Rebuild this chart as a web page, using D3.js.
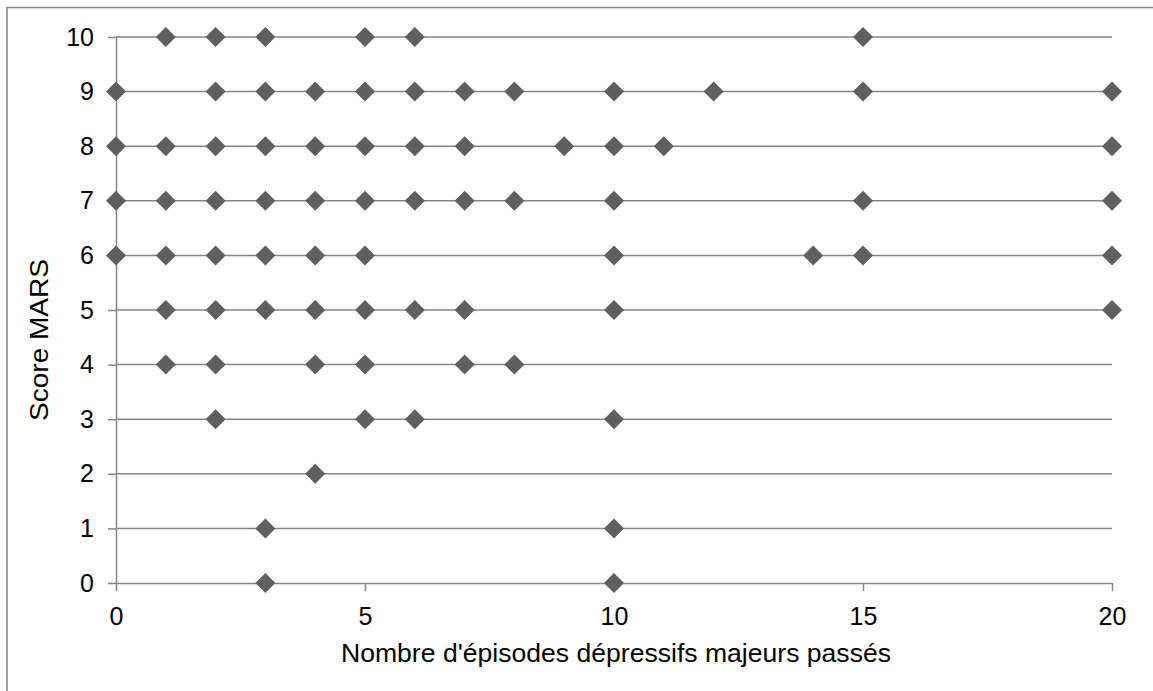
<!DOCTYPE html>
<html><head><meta charset="utf-8">
<script src="https://cdn.jsdelivr.net/npm/d3@7"></script>
<style>html,body{margin:0;padding:0;background:#fff;overflow:hidden}</style>
</head><body>
<svg id="c" width="1153" height="691"></svg>
<script>
// Score MARS rows: for each score, the list of past major depressive episode counts
const scores = [10, 9, 8, 7, 6, 5, 4, 3, 2, 1, 0];
const row10 = [1, 2, 3, 5, 6, 15];
const row9 = [0, 2, 3, 4, 5, 6, 7, 8, 10, 12, 15, 20];
const row8 = [0, 1, 2, 3, 4, 5, 6, 7, 9, 10, 11, 20];
const row7 = [0, 1, 2, 3, 4, 5, 6, 7, 8, 10, 15, 20];
const row6 = [0, 1, 2, 3, 4, 5, 10, 14, 15, 20];
const row5 = [1, 2, 3, 4, 5, 6, 7, 10, 20];
const row4 = [1, 2, 4, 5, 7, 8];
const row3 = [2, 5, 6, 10];
const row2 = [4];
const row1 = [3, 10];
const row0 = [3, 10];
const rows = [row10, row9, row8, row7, row6, row5, row4, row3, row2, row1, row0];
const xTicks = [0, 5, 10, 15, 20];
const yTicks = [0, 1, 2, 3, 4, 5, 6, 7, 8, 9, 10];
const xTitle = "Nombre d'épisodes dépressifs majeurs passés";
const yTitle = "Score MARS";

(function () {
const points = [];
rows.forEach((r, i) => r.forEach(v => points.push({x: v, y: scores[i]})));

const svg = d3.select("#c");
const font = "'Liberation Sans', Arial, sans-serif";
const L = 116, R = 1112, T = 37, B = 583;
const x = d3.scaleLinear().domain([0, 20]).range([L, R]);
const y = d3.scaleLinear().domain([0, 10]).range([B, T]);
const grey = "#868686";

// outer chart border (extends beyond the viewport on right/bottom)
svg.append("rect").attr("x", 7).attr("y", 7.5).attr("width", 1200).attr("height", 800)
  .attr("fill", "none").attr("stroke", grey).attr("stroke-width", 1.5);

// gridlines
svg.append("g").selectAll("line").data(yTicks.filter(d => d !== 0)).join("line")
  .attr("x1", L).attr("x2", R).attr("y1", d => y(d)).attr("y2", d => y(d))
  .attr("stroke", grey).attr("stroke-width", 1.5);

// y axis
const ya = svg.append("g").attr("transform", `translate(${L},0)`)
  .call(d3.axisLeft(y).tickValues(yTicks).tickSize(8).tickPadding(14).tickSizeOuter(0));
// x axis
const xa = svg.append("g").attr("transform", `translate(0,${B})`)
  .call(d3.axisBottom(x).tickValues(xTicks).tickSize(8).tickPadding(16).tickSizeOuter(0));
[ya, xa].forEach(g => {
  g.select(".domain").attr("stroke", grey).attr("stroke-width", 1.5);
  g.selectAll(".tick line").attr("stroke", grey).attr("stroke-width", 1.5);
  g.selectAll(".tick text").attr("fill", "#000").style("font-family", font).style("font-size", "25px");
});

// markers
const sym = d3.symbol().type(d3.symbolSquare).size(200);
svg.append("g").selectAll("path").data(points).join("path")
  .attr("d", sym)
  .attr("transform", d => `translate(${x(d.x)},${y(d.y)}) rotate(45)`)
  .attr("fill", "#5f5f5f");

// titles
svg.append("text").attr("x", 616).attr("y", 662)
  .attr("text-anchor", "middle").style("font-family", font).style("font-size", "26px")
  .attr("textLength", 550).attr("lengthAdjust", "spacingAndGlyphs")
  .text(xTitle);
svg.append("text").attr("transform", `translate(48,340) rotate(-90)`)
  .attr("text-anchor", "middle").style("font-family", font).style("font-size", "26px")
  .attr("textLength", 162).attr("lengthAdjust", "spacingAndGlyphs")
  .text(yTitle);
})();
</script>
</body></html>
